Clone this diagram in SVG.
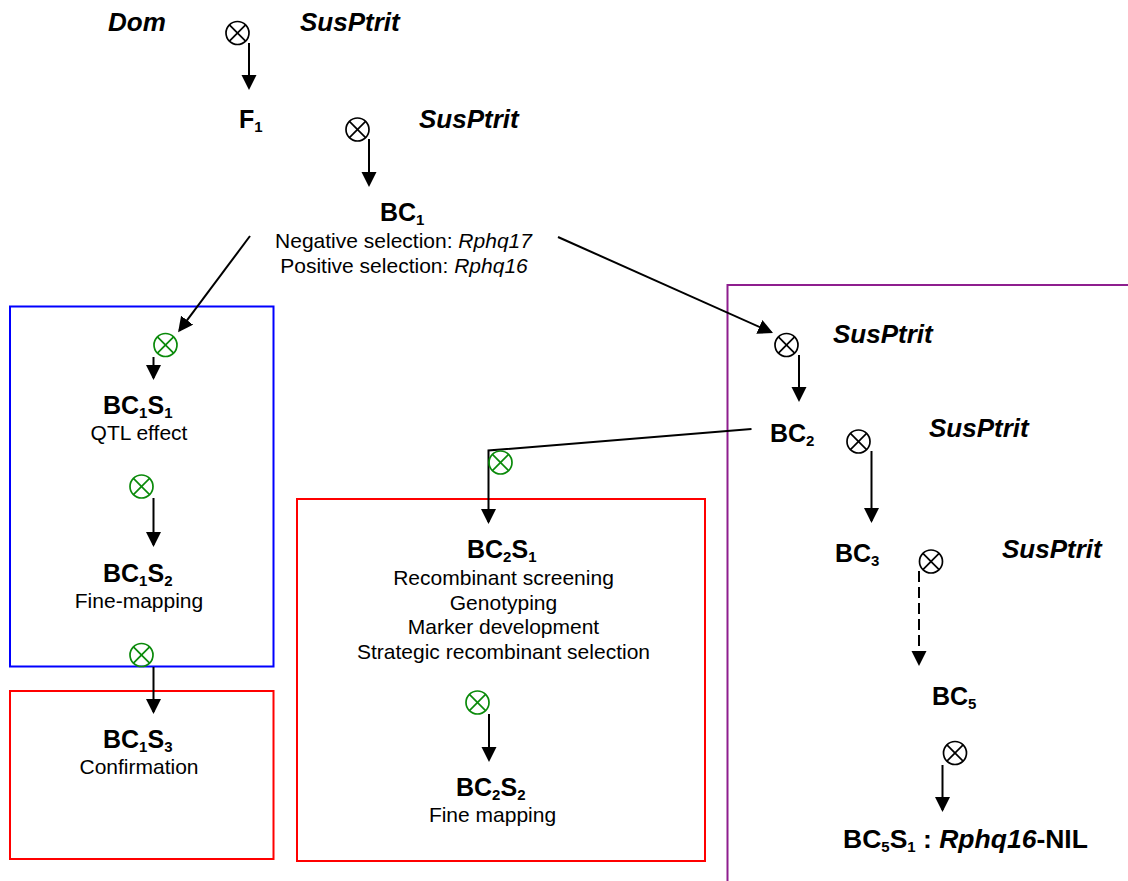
<svg xmlns="http://www.w3.org/2000/svg" xmlns:xlink="http://www.w3.org/1999/xlink" width="1128" height="881" viewBox="0 0 1128 881">
<style>
text { font-family: "Liberation Sans", Arial, sans-serif; fill: #000; }
.lbl { font-size: 25px; font-weight: bold; }
.big { font-size: 26.5px; }
.sp { font-size: 26px; font-weight: bold; font-style: italic; }
.reg { font-size: 21px; text-anchor: middle; }
.sub { font-size: 15px; }
.it { font-style: italic; }
.conn { stroke: #000; stroke-width: 2; fill: none; marker-end: url(#ah); }
.dash { stroke-dasharray: 11 5; }
.ot { fill: none; stroke-width: 1.7; }
.blk { stroke: #000; }
.grn { stroke: #0a8a0a; }
.box { fill: none; stroke-width: 2; }
</style>
<defs>
<marker id="ah" markerUnits="userSpaceOnUse" markerWidth="16" markerHeight="16" refX="13" refY="7.5" orient="auto">
<path d="M0,0 L15,7.5 L0,15 Z" fill="#000"/>
</marker>
<g id="otimes">
<circle cx="0" cy="0" r="11.5"/>
<line x1="-8.1" y1="-8.1" x2="8.1" y2="8.1"/>
<line x1="-8.1" y1="8.1" x2="8.1" y2="-8.1"/>
</g>
</defs>
<rect width="1128" height="881" fill="#fff"/>

<g id="boxes">
<rect id="box-blue" class="box" x="10" y="306.5" width="263.5" height="360" stroke="#0000ff"/>
<rect id="box-red1" class="box" x="10" y="691" width="263.5" height="168" stroke="#ff0000"/>
<rect id="box-red2" class="box" x="297" y="499" width="408" height="362" stroke="#ff0000"/>
<path id="box-purple" class="box" d="M727.5,890 V285 H1130" stroke="#8e1e8e"/>
</g>

<g id="connectors">
<line class="conn" x1="249" y1="43" x2="249" y2="88"/>
<line class="conn" x1="369" y1="139" x2="369" y2="185"/>
<line class="conn" x1="250" y1="236" x2="179.3" y2="330.6"/>
<line class="conn" x1="558" y1="237" x2="771.2" y2="332.2"/>
<line class="conn" x1="799" y1="355" x2="799" y2="400"/>
<line class="conn" x1="871.5" y1="451" x2="871.5" y2="521"/>
<line class="conn dash" x1="919" y1="571" x2="919" y2="664"/>
<line class="conn" x1="942.5" y1="765" x2="942.5" y2="810"/>
<line class="conn" x1="153.5" y1="357" x2="153.5" y2="378"/>
<line class="conn" x1="153.5" y1="498" x2="153.5" y2="545"/>
<line class="conn" x1="153.5" y1="667" x2="153.5" y2="712"/>
<polyline class="conn" points="751.5,429 488.5,450.5 488.5,522"/>
<line class="conn" x1="489" y1="714" x2="489" y2="760"/>
</g>

<g id="selfing">
<use xlink:href="#otimes" class="ot blk" x="237.5" y="33"/>
<use xlink:href="#otimes" class="ot blk" x="357.5" y="129.5"/>
<use xlink:href="#otimes" class="ot blk" x="786.5" y="345"/>
<use xlink:href="#otimes" class="ot blk" x="858.5" y="441.5"/>
<use xlink:href="#otimes" class="ot blk" x="931" y="561.5"/>
<use xlink:href="#otimes" class="ot blk" x="955" y="753"/>
<use xlink:href="#otimes" class="ot grn" x="165.5" y="345"/>
<use xlink:href="#otimes" class="ot grn" x="141.5" y="486.5"/>
<use xlink:href="#otimes" class="ot grn" x="141.5" y="655"/>
<use xlink:href="#otimes" class="ot grn" x="500.5" y="462.5"/>
<use xlink:href="#otimes" class="ot grn" x="477.5" y="702.5"/>
</g>

<g id="parents">
<text class="sp" x="108" y="31">Dom</text>
<text class="sp" x="300" y="31">SusPtrit</text>
<text class="sp" x="419" y="128">SusPtrit</text>
<text class="sp" x="833" y="343">SusPtrit</text>
<text class="sp" x="929" y="437">SusPtrit</text>
<text class="sp" x="1002" y="558">SusPtrit</text>
</g>

<g id="node-F1">
<text class="lbl" x="239" y="128">F<tspan class="sub" dy="4">1</tspan></text>
</g>

<g id="node-BC1">
<text class="lbl" x="380" y="221">BC<tspan class="sub" dy="4">1</tspan></text>
<text class="reg" x="403.5" y="248">Negative selection: <tspan class="it">Rphq17</tspan></text>
<text class="reg" x="404" y="273">Positive selection: <tspan class="it">Rphq16</tspan></text>
</g>

<g id="node-BC1S1">
<text class="lbl" x="103" y="414">BC<tspan class="sub" dy="4">1</tspan><tspan dy="-4">S</tspan><tspan class="sub" dy="4">1</tspan></text>
<text class="reg" x="139" y="440">QTL effect</text>
</g>

<g id="node-BC1S2">
<text class="lbl" x="103" y="582">BC<tspan class="sub" dy="4">1</tspan><tspan dy="-4">S</tspan><tspan class="sub" dy="4">2</tspan></text>
<text class="reg" x="139" y="608">Fine-mapping</text>
</g>

<g id="node-BC1S3">
<text class="lbl" x="103" y="748">BC<tspan class="sub" dy="4">1</tspan><tspan dy="-4">S</tspan><tspan class="sub" dy="4">3</tspan></text>
<text class="reg" x="139" y="774">Confirmation</text>
</g>

<g id="node-BC2S1">
<text class="lbl" x="467" y="558">BC<tspan class="sub" dy="4">2</tspan><tspan dy="-4">S</tspan><tspan class="sub" dy="4">1</tspan></text>
<text class="reg" x="503.5" y="585">Recombinant screening</text>
<text class="reg" x="503.5" y="609.5">Genotyping</text>
<text class="reg" x="503.5" y="634">Marker development</text>
<text class="reg" x="503.5" y="658.5">Strategic recombinant selection</text>
</g>

<g id="node-BC2S2">
<text class="lbl" x="456" y="796">BC<tspan class="sub" dy="4">2</tspan><tspan dy="-4">S</tspan><tspan class="sub" dy="4">2</tspan></text>
<text class="reg" x="492.5" y="822">Fine mapping</text>
</g>

<g id="node-BC2">
<text class="lbl" x="770" y="442">BC<tspan class="sub" dy="4">2</tspan></text>
</g>

<g id="node-BC3">
<text class="lbl" x="835" y="562">BC<tspan class="sub" dy="4">3</tspan></text>
</g>

<g id="node-BC5">
<text class="lbl" x="932" y="705">BC<tspan class="sub" dy="4">5</tspan></text>
</g>

<g id="node-BC5S1">
<text class="lbl big" x="843" y="848">BC<tspan class="sub" dy="4">5</tspan><tspan dy="-4">S</tspan><tspan class="sub" dy="4">1</tspan><tspan dy="-4"> : </tspan><tspan class="it">Rphq16</tspan>-NIL</text>
</g>
</svg>
